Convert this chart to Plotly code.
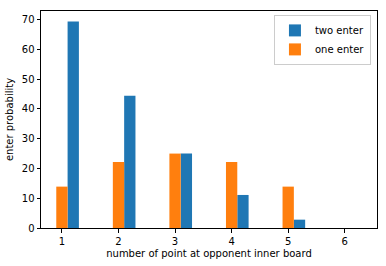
import plotly.graph_objects as go

points = [1, 2, 3, 4, 5, 6]
two_enter = [69.4, 44.4, 25.0, 11.1, 2.8, 0.0]
one_enter = [13.9, 22.2, 25.0, 22.2, 13.9, 0.0]

fig = go.Figure()
fig.add_trace(go.Bar(x=points, y=two_enter, name="two enter", width=0.2, offset=0.1,
                     marker=dict(color="#1f77b4", line=dict(width=0))))
fig.add_trace(go.Bar(x=points, y=one_enter, name="one enter", width=0.2, offset=-0.1,
                     marker=dict(color="#ff7f0e", line=dict(width=0))))

axis_common = dict(showgrid=False, zeroline=False, showline=True, linecolor="black",
                   linewidth=1, mirror=True, ticks="outside", ticklen=3.5, tickwidth=0.8,
                   tickcolor="black", tickfont=dict(family="DejaVu Sans", size=10, color="black"))
fig.update_layout(
    width=386, height=266, margin=dict(l=41, r=9, t=11, b=38),
    plot_bgcolor="white", paper_bgcolor="white", barmode="overlay",
    font=dict(family="DejaVu Sans", size=10, color="black"),
    xaxis=dict(range=[0.63, 6.57], tickvals=points, ticktext=[str(p) for p in points],
               title=dict(text="number of point at opponent inner board", standoff=4,
                          font=dict(size=10)), **axis_common),
    yaxis=dict(range=[0, 72.9], dtick=10, title=dict(text="enter probability", standoff=6,
                                                      font=dict(size=10)), **axis_common),
    legend=dict(x=0.982, y=0.982, xanchor="right", yanchor="top", bgcolor="white",
                bordercolor="#cccccc", borderwidth=1, font=dict(size=10),
                itemwidth=30, tracegroupgap=0),
    showlegend=True,
)
fig.write_html("out.html")
